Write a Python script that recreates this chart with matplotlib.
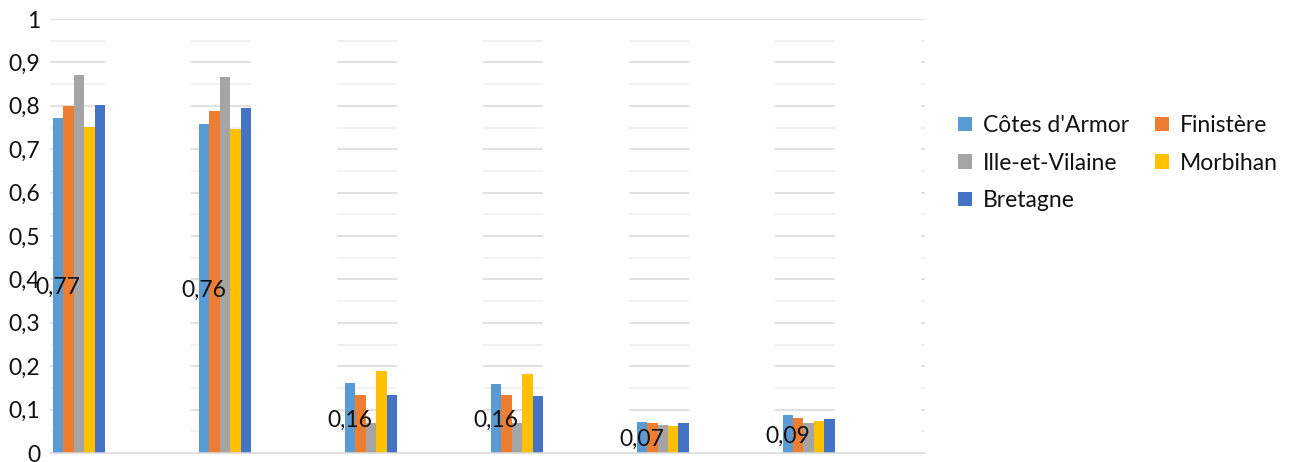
import numpy as np
import matplotlib
matplotlib.use("Agg")
import matplotlib.pyplot as plt

plt.rcParams['font.family'] = ['Lato', 'DejaVu Sans']

# Share of each department, six indicator groups
series_names = ["Côtes d'Armor", "Finistère", "Ille-et-Vilaine", "Morbihan", "Bretagne"]
cotes_armor = [0.773, 0.759, 0.162, 0.160, 0.071, 0.088]
finistere = [0.800, 0.788, 0.134, 0.134, 0.070, 0.081]
ille_et_vilaine = [0.872, 0.867, 0.068, 0.068, 0.065, 0.070]
morbihan = [0.752, 0.746, 0.190, 0.182, 0.062, 0.074]
bretagne = [0.802, 0.796, 0.134, 0.132, 0.068, 0.078]
y_ticks = [0, 0.1, 0.2, 0.3, 0.4, 0.5, 0.6, 0.7, 0.8, 0.9, 1.0]

colors = ['#5B9BD5', '#ED7D31', '#A5A5A5', '#FFC000', '#4472C4']
all_series = [cotes_armor, finistere, ille_et_vilaine, morbihan, bretagne]

W, H = 1303, 462
fig = plt.figure(figsize=(W / 100, H / 100), dpi=100)
ax = fig.add_axes([50 / W, 9 / H, (925 - 50) / W, (453 - 19) / H])

n_groups = len(cotes_armor)
x = np.arange(n_groups)
bar_w = 0.0717
n_series = len(all_series)
offsets = (np.arange(n_series) - (n_series - 1) / 2) * bar_w
half = n_series * bar_w / 2

# Gridlines drawn as segments behind each cluster
seg_left = -half - 0.053
for i in range(n_groups + 1):
    for k in range(1, 20):
        yv = k * 0.05
        major = (k % 2 == 0)
        ax.hlines(yv, i + seg_left, i + half,
                  colors='#d9d9d9' if major else '#eeeeee',
                  linewidth=1.1, zorder=0.5)
ax.axhline(1.0, color='#e3e3e3', linewidth=1.0, zorder=0.4)

handles = []
for j, (vals, col, name) in enumerate(zip(all_series, colors, series_names)):
    b = ax.bar(x + offsets[j], vals, width=bar_w, color=col, label=name,
               zorder=2, linewidth=0)
    handles.append(b)

# Value labels for the first series, centred in the bar
for xi, v in zip(x + offsets[0], cotes_armor):
    ax.text(xi, v / 2 - 0.005, f"{v:.2f}".replace('.', ','), ha='center', va='center',
            fontsize=16.5, color='#111111', zorder=3)

ax.set_xlim(-0.2, 5.797)
ax.set_ylim(0, 1)
ax.set_yticks(y_ticks)
ax.set_yticklabels([('%g' % t).replace('.', ',') for t in y_ticks])
ax.tick_params(axis='y', length=0, pad=7, labelsize=16.5, labelcolor='#111111')
ax.set_xticks([])
for s in ['top', 'right', 'left']:
    ax.spines[s].set_visible(False)
ax.spines['bottom'].set_color('#d9d9d9')
ax.spines['bottom'].set_linewidth(1.1)
ax.spines['bottom'].set_zorder(3)

order = [0, 2, 4, 1, 3]
leg = fig.legend([handles[i] for i in order], [series_names[i] for i in order],
                 ncol=2, loc='center left', bbox_to_anchor=(958 / W, 299 / H),
                 frameon=False, fontsize=16.5, handlelength=0.62, handleheight=0.62,
                 handletextpad=0.45, columnspacing=1.15, labelspacing=0.72,
                 borderpad=0, borderaxespad=0)
for t in leg.get_texts():
    t.set_color('#111111')

fig.savefig('out.png', dpi=100)
